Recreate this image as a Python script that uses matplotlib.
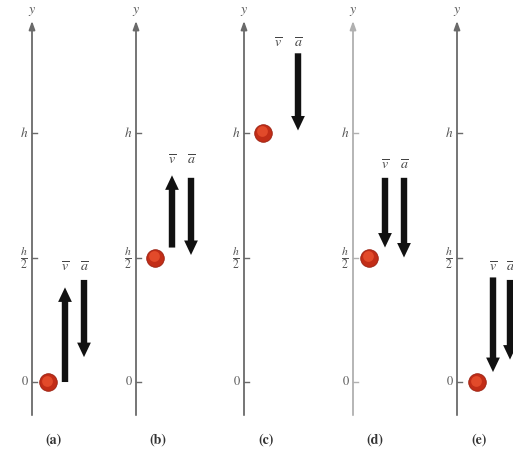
import matplotlib
matplotlib.use('Agg')
import matplotlib.pyplot as plt

plt.rcParams['mathtext.fontset'] = 'stix'
plt.rcParams['font.family'] = 'STIXGeneral'

# data, heights in units of h
panel_labels = ['(a)', '(b)', '(c)', '(d)', '(e)']
ball_y = [0.0, 0.5, 1.0, 0.5, 0.0]
v_tail = [0.0, 0.54, None, 0.82, 0.42]
v_tip = [0.38, 0.83, None, 0.54, 0.04]
a_tail = [0.41, 0.82, 1.32, 0.82, 0.41]
a_tip = [0.10, 0.51, 1.01, 0.50, 0.09]
vec_label_y = [0.46, 0.89, 1.36, 0.87, 0.46]
tick_vals = [0.0, 0.5, 1.0]
tick_labels = ['0', r'$\frac{h}{2}$', r'$h$']
tick_sizes = [9, 12, 9.5]

# layout (pixels across the figure)
axis_x = [32, 136, 244, 353, 457]
axis_col = ['#6a6a6a', '#6a6a6a', '#6a6a6a', '#b0b0b0', '#6a6a6a']
ball_dx = [16, 19, 19, 16, 20]
v_dx = [33, 36, 34, 32, 36]
a_dx = [52, 55, 54, 51, 53]

fig = plt.figure(figsize=(5.13, 4.54), dpi=100)
ax = fig.add_axes([0, 0, 1, 1])
ax.set_xlim(0, 513)
ax.set_ylim(-0.289, 1.534)
ax.axis('off')

arrow_style = 'simple,tail_width=0.42,head_width=0.9,head_length=0.95'

for i, x0 in enumerate(axis_x):
    col = axis_col[i]
    # y axis with arrow head
    ax.annotate('', xy=(x0, 1.45), xytext=(x0, -0.133),
                arrowprops=dict(arrowstyle='-|>,head_width=0.18,head_length=0.5',
                                color=col, lw=1.3, shrinkA=0, shrinkB=0))
    ax.text(x0, 1.49, r'$y$', ha='center', va='center', fontsize=10, color='#555555')

    # ticks
    for tv, tl, ts in zip(tick_vals, tick_labels, tick_sizes):
        ax.plot([x0, x0 + 5], [tv, tv], color=col, lw=1.0)
        ax.text(x0 - 4, tv, tl, ha='right', va='center', fontsize=ts, color='#555555')

    # ball
    ax.scatter([x0 + ball_dx[i]], [ball_y[i]], s=160, color='#c22d17',
               edgecolor='#9a2010', lw=0.6, zorder=5)
    ax.scatter([x0 + ball_dx[i] - 1], [ball_y[i] + 0.006], s=60, color='#e24a2a',
               lw=0, zorder=6)

    # velocity arrow
    if v_tail[i] is not None:
        ax.annotate('', xy=(x0 + v_dx[i], v_tip[i]), xytext=(x0 + v_dx[i], v_tail[i]),
                    arrowprops=dict(arrowstyle=arrow_style, color='#111111',
                                    mutation_scale=11, shrinkA=0, shrinkB=0, lw=0))
    # acceleration arrow
    ax.annotate('', xy=(x0 + a_dx[i], a_tip[i]), xytext=(x0 + a_dx[i], a_tail[i]),
                arrowprops=dict(arrowstyle=arrow_style, color='#111111',
                                mutation_scale=11, shrinkA=0, shrinkB=0, lw=0))

    ax.text(x0 + v_dx[i], vec_label_y[i], r'$\overline{v}$', ha='center', va='center',
            fontsize=10, color='#444444')
    ax.text(x0 + a_dx[i], vec_label_y[i], r'$\overline{a}$', ha='center', va='center',
            fontsize=10, color='#444444')

    ax.text(x0 + 22, -0.233, panel_labels[i], ha='center', va='center', fontsize=10,
            fontweight='bold', color='#333333')

fig.savefig('out.png', dpi=100)
